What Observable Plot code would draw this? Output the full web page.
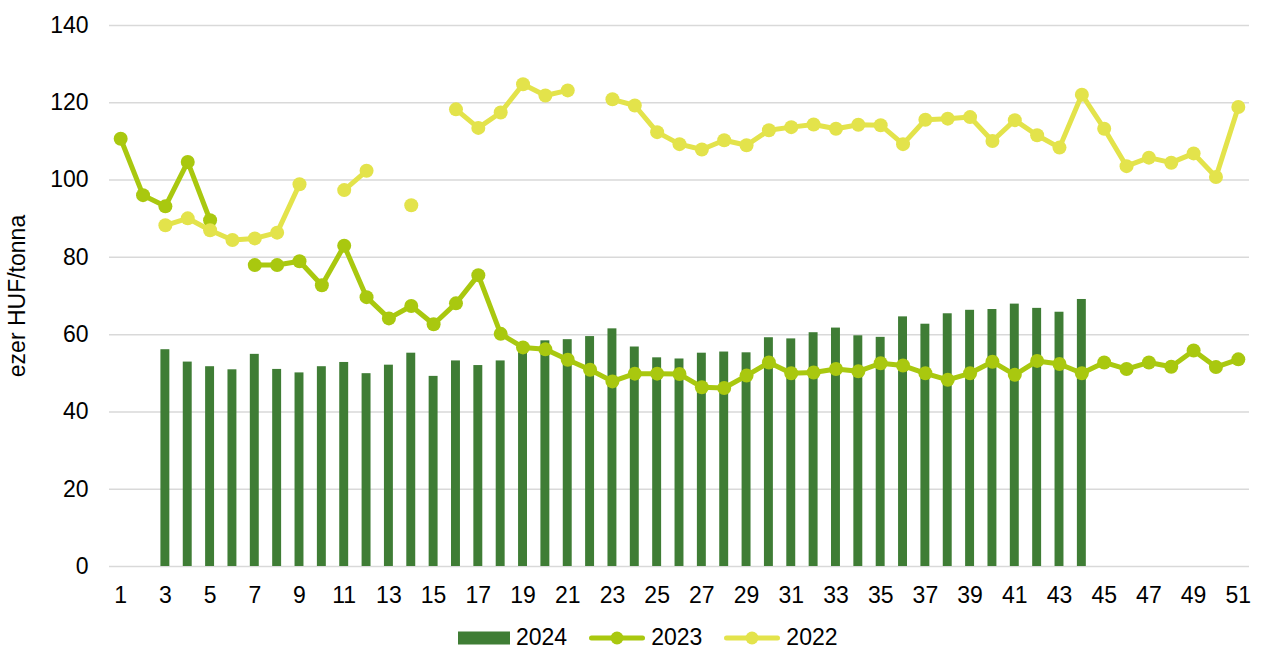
<!DOCTYPE html>
<html>
<head>
<meta charset="utf-8">
<script src="https://cdn.jsdelivr.net/npm/d3@7"></script>
<script src="https://cdn.jsdelivr.net/npm/@observablehq/plot@0.6"></script>
<style>
  html, body { margin: 0; padding: 0; background: #fff; }
  body { width: 1263px; height: 648px; overflow: hidden; font-family: "Liberation Sans", Arial, sans-serif; }
  #chart svg { display: block; }
  #legend { display: flex; align-items: center; height: 39px; margin-left: 458px; font-size: 23px; color: #000; }
  #legend .item { display: flex; align-items: center; margin-right: 22px; }
  #legend svg { display: block; margin-right: 6px; }
</style>
</head>
<body>
<div id="chart"></div>
<div id="legend"></div>
<script>
const weeks = [1,2,3,4,5,6,7,8,9,10,11,12,13,14,15,16,17,18,19,20,21,22,23,24,25,26,27,28,29,30,31,32,33,34,35,36,37,38,39,40,41,42,43,44,45,46,47,48,49,50,51];
const xTicks = [1,3,5,7,9,11,13,15,17,19,21,23,25,27,29,31,33,35,37,39,41,43,45,47,49,51];
const yTicks = [0,20,40,60,80,100,120,140];

const v2024 = [null,null,56.1,52.9,51.7,50.9,54.9,51.0,50.1,51.7,52.8,49.9,52.1,55.2,49.2,53.2,52.0,53.2,57.0,58.4,58.7,59.5,61.5,56.8,54.0,53.7,55.2,55.5,55.3,59.2,58.9,60.5,61.7,59.7,59.3,64.6,62.7,65.4,66.3,66.5,67.9,66.8,65.8,69.1,null,null,null,null,null,null,null];
const v2023 = [110.7,96.1,93.2,104.7,89.6,null,78.0,78.0,79.0,72.8,83.0,69.7,64.2,67.4,62.7,68.1,75.4,60.2,56.7,56.2,53.5,50.9,47.9,49.9,49.9,49.8,46.4,46.2,49.4,52.8,50.0,50.2,51.1,50.5,52.6,52.0,50.0,48.3,50.0,53.0,49.6,53.2,52.4,50.0,52.8,51.1,52.8,51.7,55.9,51.6,53.6];
const v2022 = [null,null,88.3,90.1,87.0,84.5,84.9,86.4,98.9,null,97.4,102.4,null,93.5,null,118.3,113.5,117.5,124.8,121.9,123.2,null,120.9,119.3,112.4,109.3,107.9,110.3,109.0,112.9,113.7,114.4,113.3,114.3,114.2,109.3,115.6,115.9,116.3,110.1,115.5,111.6,108.4,122.1,113.3,103.6,105.8,104.5,106.9,100.8,118.9];

const seriesNames = ["2024","2023","2022"];
const colors = {"2024": "#3F7D35", "2023": "#A9C80F", "2022": "#E3E34B"};

const bars = weeks.map((w, i) => ({week: w, value: v2024[i]})).filter(d => d.value != null);
const l2023 = weeks.map((w, i) => ({week: w, value: v2023[i]}));
const l2022 = weeks.map((w, i) => ({week: w, value: v2022[i]}));

const chart = Plot.plot({
  width: 1263,
  height: 618,
  marginLeft: 109,
  marginRight: 14,
  marginTop: 25,
  marginBottom: 52,
  style: {fontFamily: "'Liberation Sans', Arial, sans-serif", fontSize: "23px", color: "#000", background: "#fff"},
  x: {type: "band", domain: weeks, paddingInner: 0.6, paddingOuter: 0.3, round: false},
  y: {domain: [0, 140]},
  marks: [
    Plot.gridY(yTicks, {stroke: "#d9d9d9", strokeOpacity: 1, strokeWidth: 1.5}),
    Plot.axisY({ticks: yTicks, tickSize: 0, tickPadding: 21, label: "ezer HUF/tonna", labelAnchor: "center", labelOffset: 101, labelArrow: "none"}),
    Plot.axisX({ticks: xTicks, tickSize: 0, tickPadding: 20, label: null}),
    Plot.barY(bars, {x: "week", y: "value", fill: colors["2024"]}),
    Plot.lineY(l2023, {x: "week", y: "value", stroke: colors["2023"], strokeWidth: 5}),
    Plot.dot(l2023.filter(d => d.value != null), {x: "week", y: "value", r: 7, fill: colors["2023"]}),
    Plot.lineY(l2022, {x: "week", y: "value", stroke: colors["2022"], strokeWidth: 5}),
    Plot.dot(l2022.filter(d => d.value != null), {x: "week", y: "value", r: 7, fill: colors["2022"]})
  ]
});
document.getElementById("chart").appendChild(chart);

const legend = document.getElementById("legend");
seriesNames.forEach(name => {
  const item = document.createElement("div");
  item.className = "item";
  const ns = "http://www.w3.org/2000/svg";
  const sw = document.createElementNS(ns, "svg");
  if (name === "2024") {
    sw.setAttribute("width", 52); sw.setAttribute("height", 14);
    const r = document.createElementNS(ns, "rect");
    r.setAttribute("x", 0); r.setAttribute("y", 0.5); r.setAttribute("width", 52); r.setAttribute("height", 13);
    r.setAttribute("fill", colors[name]);
    sw.appendChild(r);
  } else {
    sw.setAttribute("width", 56); sw.setAttribute("height", 16);
    const l = document.createElementNS(ns, "line");
    l.setAttribute("x1", 2.5); l.setAttribute("x2", 53.5); l.setAttribute("y1", 8); l.setAttribute("y2", 8);
    l.setAttribute("stroke", colors[name]); l.setAttribute("stroke-width", 5); l.setAttribute("stroke-linecap", "round");
    const c = document.createElementNS(ns, "circle");
    c.setAttribute("cx", 28); c.setAttribute("cy", 8); c.setAttribute("r", 6.5); c.setAttribute("fill", colors[name]);
    sw.appendChild(l); sw.appendChild(c);
  }
  const t = document.createElement("span");
  t.textContent = name;
  item.appendChild(sw); item.appendChild(t);
  legend.appendChild(item);
});
</script>
</body>
</html>
